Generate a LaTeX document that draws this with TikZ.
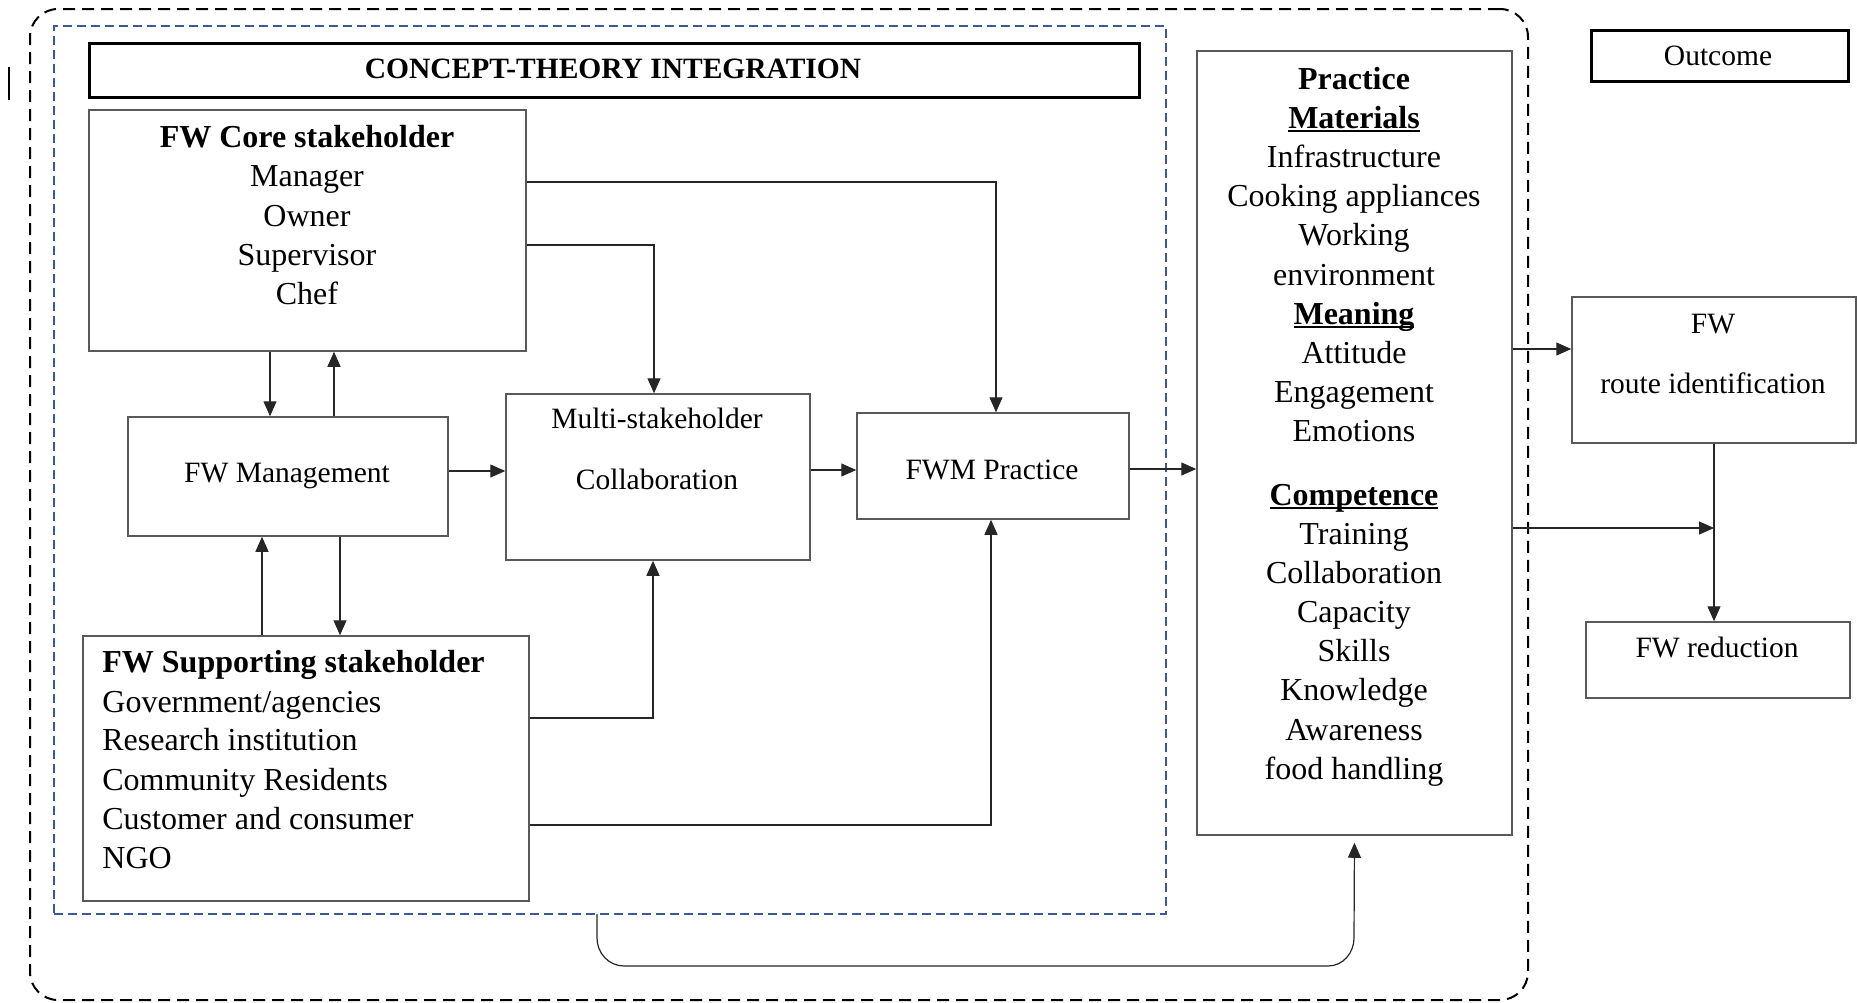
\documentclass[tikz,border=0pt]{standalone}
\usepackage{fontspec}
\setmainfont{Liberation Serif}
\usetikzlibrary{arrows.meta,fit,calc}

\definecolor{frameblue}{RGB}{59,89,152}

% bold heading with a rule set just under the baseline
\newcommand\ulbf[1]{\setbox0\hbox{\textbf{#1}}\rlap{\rule[-0.14em]{\wd0}{0.065em}}\box0}

\begin{document}
\begin{tikzpicture}[x=0.5pt,y=-0.5pt,
  outer/.style={draw=black, line width=1pt, dash pattern=on 6pt off 3.5pt, rounded corners=14pt, inner sep=0pt},
  integ/.style={draw=frameblue, line width=0.8pt, dash pattern=on 4.5pt off 2.5pt, inner sep=0pt},
  box/.style={draw=black!65, line width=0.75pt, inner sep=0pt},
  heavybox/.style={draw=black, line width=1.5pt, inner sep=0pt},
  arr/.style={draw=black!85, line width=0.6pt, -{Triangle[length=7.5pt,width=6.5pt]}},
  big/.style={font=\fontsize{16}{19.5}\selectfont, inner sep=0pt},
  norm/.style={font=\fontsize{14.75}{18}\selectfont, inner sep=0pt},
]
\useasboundingbox (0,0) rectangle (1857,1002);

% stray stroke at the left margin
\coordinate (marktop) at (9,67);
\coordinate (markbot) at (9,100);
\draw[line width=0.6pt] (marktop) -- (markbot);

% frames
\node[outer, fit={(30,9) (1528,1000)}] (frame) {};
\node[integ, fit={(54,26) (1166,914)}] (integ) {};

% boxes
\node[heavybox, fit={(89,43) (1139,97)}] (titlebox) {};
\node[box, fit={(89,110) (526,351)}] (core) {};
\node[box, fit={(128,417) (448,536)}] (mgmt) {};
\node[box, fit={(506,394) (810,560)}] (multi) {};
\node[box, fit={(857,413) (1129,519)}] (fwm) {};
\node[box, fit={(83,636) (529,901)}] (support) {};
\node[box, fit={(1197,51) (1512,835)}] (practice) {};
\node[heavybox, fit={(1591,30) (1848,81)}] (outcome) {};
\node[box, fit={(1572,297) (1856,443)}] (route) {};
\node[box, fit={(1586,622) (1850,698)}] (reduction) {};

% texts
\node[norm, anchor=base] (titletext) at (613,78) {\textbf{CONCEPT-THEORY INTEGRATION}};

\foreach [count=\i] \t/\y in {{\textbf{FW Core stakeholder}}/147, Manager/186, Owner/226, Supervisor/265, Chef/304}
  \node[big, anchor=base] (coretxt\i) at (307,\y) {\t};

\foreach [count=\i] \t/\y in {{\textbf{FW Supporting stakeholder}}/672, {Government/agencies}/712, Research institution/750, Community Residents/790, Customer and consumer/829, NGO/868}
  \node[big, anchor=base west] (suptxt\i) at (102,\y) {\t};

\foreach [count=\i] \t/\y in {{\textbf{Practice}}/89, {\ulbf{Materials}}/128, Infrastructure/167, Cooking appliances/206, Working/245, environment/285, {\ulbf{Meaning}}/324, Attitude/363, Engagement/402, Emotions/441, {\ulbf{Competence}}/505, Training/544, Collaboration/583, Capacity/622, Skills/661, Knowledge/700, Awareness/740, food handling/779}
  \node[big, anchor=base] (prtxt\i) at (1354,\y) {\t};

\node[norm, anchor=base] (mgmttxt) at (287,482) {FW Management};
\node[norm, anchor=base] (multitxt1) at (657,428) {Multi-stakeholder};
\node[norm, anchor=base] (multitxt2) at (657,489) {Collaboration};
\node[norm, anchor=base] (fwmtxt) at (992,479) {FWM Practice};
\node[norm, anchor=base] (outcometxt) at (1718,65) {Outcome};
\node[norm, anchor=base] (routetxt1) at (1713,333) {FW};
\node[norm, anchor=base] (routetxt2) at (1713,393) {route identification};
\node[norm, anchor=base] (reductiontxt) at (1717,657) {FW reduction};

% connectors
\draw[arr] (core.east |- 0,182) -| (996,0 |- fwm.north);
\draw[arr] (core.east |- 0,245) -| (654,0 |- multi.north);
\draw[arr] (270,0 |- core.south) -- (270,0 |- mgmt.north);
\draw[arr] (334,0 |- mgmt.north) -- (334,0 |- core.south);
\draw[arr] (262,0 |- support.north) -- (262,0 |- mgmt.south);
\draw[arr] (340,0 |- mgmt.south) -- (340,0 |- support.north);
\draw[arr] (mgmt.east |- 0,471) -- (multi.west |- 0,471);
\draw[arr] (multi.east |- 0,470) -- (fwm.west |- 0,470);
\draw[arr] (fwm.east |- 0,469) -- (practice.west |- 0,469);
\draw[arr] (support.east |- 0,718) -| (653,0 |- multi.south);
\draw[arr] (support.east |- 0,825) -| (991,0 |- fwm.south);
\draw[arr] (practice.east |- 0,349) -- (route.west |- 0,349);
\coordinate (junction) at (route.south |- 0,528);
\draw[arr] (practice.east |- 0,528) -- (junction);
\draw[arr] (route.south) -- (route.south |- reduction.north);

% feedback loop from the integration block back to practice
\coordinate (loopstart) at (597,914);
\draw[arr, shorten >=3.5pt] (loopstart) -- (597,938) to[out=-90,in=180] (624,966) -- (1328,966) to[out=0,in=-90] (1354,938) -- (practice.south);
\end{tikzpicture}
\end{document}
